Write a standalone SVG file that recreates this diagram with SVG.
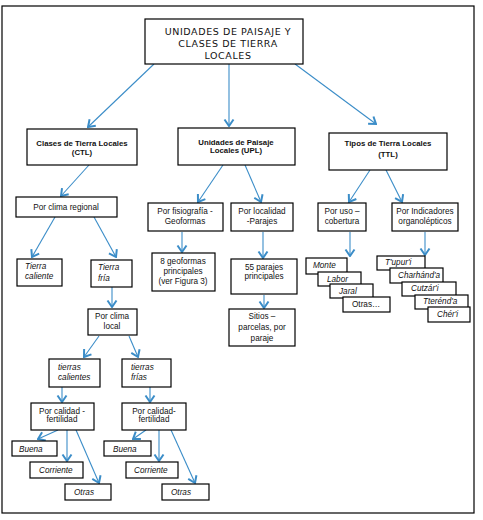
<svg xmlns="http://www.w3.org/2000/svg" width="483" height="520" viewBox="0 0 483 520">
<defs>
<style>
.bx{fill:#fff;stroke:#000;stroke-width:1.2}
.t{font-family:"Liberation Sans",Arial,sans-serif;font-size:8.2px;fill:#111;text-anchor:middle}
.b{font-weight:bold;font-size:7.8px}
.i{font-style:italic;text-anchor:start}
.ttl{font-family:"DejaVu Sans","Liberation Sans",sans-serif;font-size:9.5px;fill:#111;text-anchor:middle;letter-spacing:0.6px}
.c line{stroke:#3b8dc8;stroke-width:1.1;marker-end:url(#ah)}
</style>
<marker id="ah" viewBox="-8 -6 9 12" refX="0" refY="0" markerWidth="9" markerHeight="12" markerUnits="userSpaceOnUse" orient="auto">
<path d="M-6.5,-4.5 L0,0 L-6.5,4.5" fill="none" stroke="#3b8dc8" stroke-width="2"/>
</marker>
</defs>
<rect x="2" y="6" width="472" height="507" fill="#fff" stroke="#000" stroke-width="1.2"/>

<g class="c" id="connectors">
<line x1="154" y1="64" x2="88" y2="127"/>
<line x1="229" y1="64" x2="229" y2="126"/>
<line x1="295" y1="64" x2="376" y2="124"/>
<line x1="89" y1="165" x2="61" y2="196"/>
<line x1="55" y1="217" x2="32" y2="257"/>
<line x1="94" y1="217" x2="116" y2="257"/>
<line x1="112" y1="287" x2="112" y2="307"/>
<line x1="99" y1="336" x2="84" y2="357"/>
<line x1="129" y1="336" x2="138" y2="357"/>
<line x1="62" y1="387" x2="62" y2="402"/>
<line x1="150" y1="387" x2="150" y2="402"/>
<line x1="58" y1="430" x2="38" y2="439"/>
<line x1="67" y1="430" x2="67" y2="461"/>
<line x1="76" y1="430" x2="99" y2="483"/>
<line x1="146" y1="430" x2="133" y2="439"/>
<line x1="159" y1="430" x2="159" y2="461"/>
<line x1="171" y1="430" x2="195" y2="483"/>
<line x1="223" y1="165" x2="198" y2="202"/>
<line x1="245" y1="165" x2="261" y2="202"/>
<line x1="182" y1="232" x2="182" y2="252"/>
<line x1="263" y1="232" x2="263" y2="258"/>
<line x1="264" y1="295" x2="264" y2="308"/>
<line x1="370" y1="170" x2="349" y2="202"/>
<line x1="386" y1="170" x2="402" y2="202"/>
<line x1="350" y1="232" x2="350" y2="256"/>
<line x1="425" y1="232" x2="425" y2="255"/>
</g>

<g id="title">
<rect class="bx" x="145" y="19" width="158" height="45" stroke-width="1.5"/>
<text class="ttl" x="228" y="35">UNIDADES DE PAISAJE Y</text>
<text class="ttl" x="228" y="47">CLASES DE TIERRA</text>
<text class="ttl" x="228" y="59">LOCALES</text>
</g>

<g id="ctl">
<rect class="bx" x="27" y="129" width="110" height="36"/>
<text class="t b" x="82" y="146">Clases de Tierra  Locales</text>
<text class="t b" x="82" y="155">(CTL)</text>
</g>
<g id="upl">
<rect class="bx" x="178" y="128" width="117" height="37"/>
<text class="t b" x="236" y="145">Unidades de Paisaje</text>
<text class="t b" x="236" y="153">Locales (UPL)</text>
</g>
<g id="ttl">
<rect class="bx" x="329" y="133" width="118" height="37"/>
<text class="t b" x="388" y="146">Tipos de Tierra Locales</text>
<text class="t b" x="388" y="157">(TTL)</text>
</g>

<g id="clima-regional">
<rect class="bx" x="16" y="197" width="101" height="20"/>
<text class="t" x="66" y="210">Por clima regional</text>
</g>
<g id="tierra-caliente">
<rect class="bx" x="17" y="259" width="45" height="27"/>
<text class="t i" x="25" y="269">Tierra</text>
<text class="t i" x="25" y="279">caliente</text>
</g>
<g id="tierra-fria">
<rect class="bx" x="91" y="260" width="41" height="27"/>
<text class="t i" x="98" y="270">Tierra</text>
<text class="t i" x="98" y="281">fría</text>
</g>
<g id="clima-local">
<rect class="bx" x="88" y="309" width="49" height="26"/>
<text class="t" x="112" y="319">Por clima</text>
<text class="t" x="112" y="329">local</text>
</g>
<g id="tierras-calientes">
<rect class="bx" x="49" y="359" width="51" height="28"/>
<text class="t i" x="58" y="370">tierras</text>
<text class="t i" x="58" y="380">calientes</text>
</g>
<g id="tierras-frias">
<rect class="bx" x="122" y="359" width="49" height="28"/>
<text class="t i" x="131" y="370">tierras</text>
<text class="t i" x="131" y="380">frías</text>
</g>
<g id="calidad-1">
<rect class="bx" x="31" y="403" width="63" height="27"/>
<text class="t" x="62" y="414">Por calidad -</text>
<text class="t" x="62" y="422">fertilidad</text>
</g>
<g id="calidad-2">
<rect class="bx" x="122" y="403" width="64" height="27"/>
<text class="t" x="154" y="414">Por calidad-</text>
<text class="t" x="154" y="422">fertilidad</text>
</g>
<g id="buena-1"><rect class="bx" x="12" y="441" width="45" height="15"/><text class="t i" x="19" y="452">Buena</text></g>
<g id="corriente-1"><rect class="bx" x="30" y="462" width="53" height="16"/><text class="t i" x="39" y="473">Corriente</text></g>
<g id="otras-1"><rect class="bx" x="65" y="484" width="46" height="16"/><text class="t i" x="74" y="495">Otras</text></g>
<g id="buena-2"><rect class="bx" x="104" y="441" width="47" height="15"/><text class="t i" x="113" y="452">Buena</text></g>
<g id="corriente-2"><rect class="bx" x="126" y="462" width="52" height="16"/><text class="t i" x="134" y="473">Corriente</text></g>
<g id="otras-2"><rect class="bx" x="162" y="484" width="47" height="16"/><text class="t i" x="171" y="495">Otras</text></g>

<g id="fisiografia">
<rect class="bx" x="148" y="203" width="75" height="28"/>
<text class="t" x="185" y="214">Por fisiografía -</text>
<text class="t" x="185" y="224">Geoformas</text>
</g>
<g id="localidad">
<rect class="bx" x="231" y="203" width="62" height="28"/>
<text class="t" x="262" y="214">Por localidad</text>
<text class="t" x="262" y="224">-Parajes</text>
</g>
<g id="geoformas">
<rect class="bx" x="152" y="253" width="63" height="38"/>
<text class="t" x="183" y="264">8 geoformas</text>
<text class="t" x="183" y="274">principales</text>
<text class="t" x="183" y="284">(ver Figura 3)</text>
</g>
<g id="parajes">
<rect class="bx" x="231" y="259" width="66" height="35"/>
<text class="t" x="264" y="270">55 parajes</text>
<text class="t" x="264" y="279">principales</text>
</g>
<g id="sitios">
<rect class="bx" x="229" y="309" width="66" height="37"/>
<text class="t" x="262" y="319">Sitios –</text>
<text class="t" x="262" y="330">parcelas, por</text>
<text class="t" x="262" y="341">paraje</text>
</g>

<g id="por-uso">
<rect class="bx" x="318" y="203" width="48" height="28"/>
<text class="t" x="342" y="214">Por uso –</text>
<text class="t" x="342" y="224">cobertura</text>
</g>
<g id="indicadores">
<rect class="bx" x="392" y="203" width="66" height="28"/>
<text class="t" x="425" y="214">Por Indicadores</text>
<text class="t" x="425" y="224">organolépticos</text>
</g>

<g id="monte"><rect class="bx" x="306" y="258" width="41" height="16"/><text class="t i" x="313" y="268">Monte</text></g>
<g id="labor"><rect class="bx" x="318" y="272" width="43" height="14"/><text class="t i" x="327" y="282">Labor</text></g>
<g id="jaral"><rect class="bx" x="330" y="284" width="43" height="14"/><text class="t i" x="339" y="294">Jaral</text></g>
<g id="otras-3"><rect class="bx" x="343" y="297" width="47" height="15"/><text class="t" x="352" y="307" style="text-anchor:start">Otras…</text></g>

<g id="tupuri"><rect class="bx" x="377" y="256" width="48" height="14"/><text class="t i" x="385" y="265">T'upur'i</text></g>
<g id="charhanda"><rect class="bx" x="390" y="268" width="53" height="15"/><text class="t i" x="398" y="278">Charhánd'a</text></g>
<g id="cutzari"><rect class="bx" x="402" y="282" width="54" height="14"/><text class="t i" x="411" y="291">Cutzár'i</text></g>
<g id="tterenda"><rect class="bx" x="415" y="295" width="53" height="14"/><text class="t i" x="423" y="304">Tterénd'a</text></g>
<g id="cheri"><rect class="bx" x="428" y="307" width="42" height="15"/><text class="t i" x="437" y="317">Chér'i</text></g>
</svg>
